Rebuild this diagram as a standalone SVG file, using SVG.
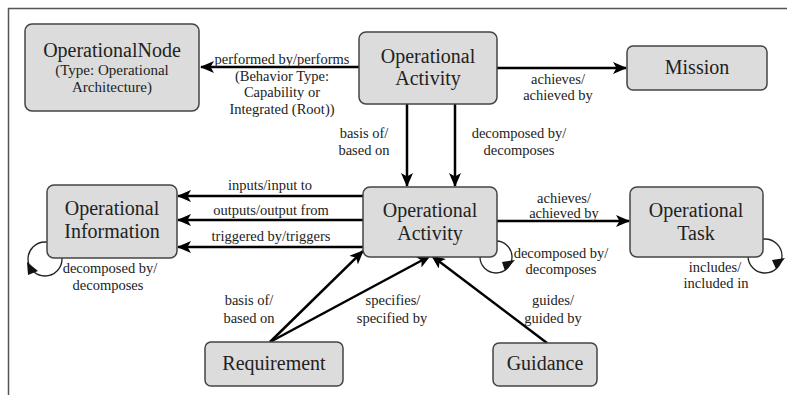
<svg xmlns="http://www.w3.org/2000/svg" width="787" height="395" viewBox="0 0 787 395">
<defs>
<style>
text{font-family:'Liberation Serif','Times New Roman',serif;fill:#222;text-anchor:middle}
.box{fill:#dcdcdc;stroke:#444;stroke-width:1.5}
.nt{font-size:20px}
.st{font-size:15px}
.lb{font-size:14.5px}
.ln{stroke:#000;stroke-width:2.5;fill:none;marker-end:url(#ah)}
.lp{stroke:#222;stroke-width:1.3;fill:none}
</style>
<marker id="ah" markerUnits="userSpaceOnUse" markerWidth="14" markerHeight="12" refX="13" refY="6" orient="auto">
<path d="M0,0 L14,6 L0,12 L3.5,6 z" fill="#000"/>
</marker>
</defs>
<rect width="787" height="395" fill="#fff"/>
<path d="M8.5,395 L8.5,8.5 L787,8.5" stroke="#555" stroke-width="1.5" fill="none"/>

<g id="connectors">
<path class="ln" d="M359,67 L201,67"/>
<path class="ln" d="M497,68 L626,68"/>
<path class="ln" d="M407,104 L407,186"/>
<path class="ln" d="M455,104 L455,186"/>
<path class="ln" d="M363,196 L178,196"/>
<path class="ln" d="M363,220 L178,220"/>
<path class="ln" d="M363,247 L178,247"/>
<path class="ln" d="M497,221 L629,221"/>
<path class="ln" d="M270,342 L363,251"/>
<path class="ln" d="M270,342 L430,256"/>
<path class="ln" d="M547,343 L432,256"/>
<circle class="lp" cx="45" cy="259" r="17"/>
<path d="M27,262 L38,271 L28,275 z" fill="#111"/>
<circle class="lp" cx="496" cy="257" r="16"/>
<path d="M515,260 L505,271 L502,262 z" fill="#111"/>
<circle class="lp" cx="765" cy="256" r="17"/>
<path d="M785,258 L776,269 L772,260 z" fill="#111"/>
<text class="lb" x="282" y="64">performed by/performs</text>
<text class="lb" x="282" y="81">(Behavior Type:</text>
<text class="lb" x="282" y="97">Capability or</text>
<text class="lb" x="282" y="114">Integrated (Root))</text>
<text class="lb" x="558" y="84">achieves/</text>
<text class="lb" x="558" y="100">achieved by</text>
<text class="lb" x="364" y="138">basis of/</text>
<text class="lb" x="364" y="155">based on</text>
<text class="lb" x="519" y="138">decomposed by/</text>
<text class="lb" x="519" y="155">decomposes</text>
<text class="lb" x="270" y="190">inputs/input to</text>
<text class="lb" x="271" y="215">outputs/output from</text>
<text class="lb" x="271" y="241">triggered by/triggers</text>
<text class="lb" x="564" y="203">achieves/</text>
<text class="lb" x="564" y="218">achieved by</text>
<text class="lb" x="561" y="258">decomposed by/</text>
<text class="lb" x="561" y="274">decomposes</text>
<text class="lb" x="110" y="273">decomposed by/</text>
<text class="lb" x="108" y="290">decomposes</text>
<text class="lb" x="715" y="272">includes/</text>
<text class="lb" x="716" y="288">included in</text>
<text class="lb" x="249" y="305">basis of/</text>
<text class="lb" x="249" y="323">based on</text>
<text class="lb" x="393" y="305">specifies/</text>
<text class="lb" x="392" y="323">specified by</text>
<text class="lb" x="553" y="305">guides/</text>
<text class="lb" x="553" y="323">guided by</text>
</g>

<g id="operational-node">
<rect class="box" x="25" y="24" width="174" height="87" rx="7"/>
<text class="nt" x="112" y="57">OperationalNode</text>
<text class="st" x="112" y="75">(Type: Operational</text>
<text class="st" x="112" y="92">Architecture)</text>
</g>
<g id="operational-activity-top">
<rect class="box" x="359" y="32" width="138" height="72" rx="7"/>
<text class="nt" x="428" y="63">Operational</text>
<text class="nt" x="428" y="85">Activity</text>
</g>
<g id="mission">
<rect class="box" x="627" y="46" width="140" height="44" rx="6"/>
<text class="nt" x="697" y="74">Mission</text>
</g>
<g id="operational-information">
<rect class="box" x="47" y="185" width="130" height="73" rx="7"/>
<text class="nt" x="112" y="215">Operational</text>
<text class="nt" x="112" y="238">Information</text>
</g>
<g id="operational-activity">
<rect class="box" x="363" y="187" width="134" height="70" rx="7"/>
<text class="nt" x="430" y="217">Operational</text>
<text class="nt" x="430" y="240">Activity</text>
</g>
<g id="operational-task">
<rect class="box" x="630" y="187" width="133" height="70" rx="7"/>
<text class="nt" x="696" y="217">Operational</text>
<text class="nt" x="696" y="240">Task</text>
</g>
<g id="requirement">
<rect class="box" x="205" y="342" width="138" height="44" rx="6"/>
<text class="nt" x="274" y="370">Requirement</text>
</g>
<g id="guidance">
<rect class="box" x="493" y="343" width="104" height="43" rx="6"/>
<text class="nt" x="545" y="370">Guidance</text>
</g>
</svg>
